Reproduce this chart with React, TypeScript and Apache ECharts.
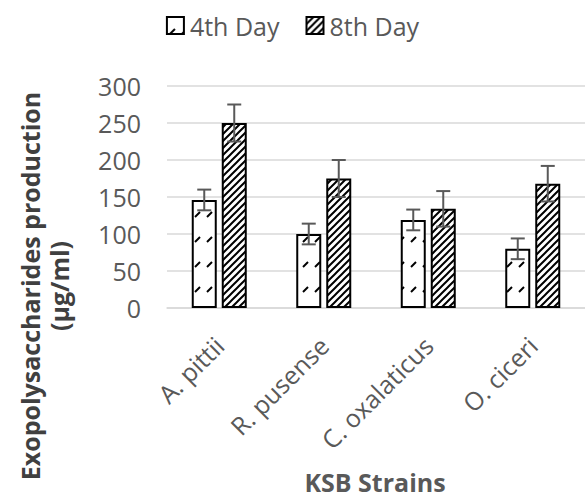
import React, { useEffect, useRef } from "react";
import * as echarts from "echarts";

const categories = ["A. pittii", "R. pusense", "C. oxalaticus", "O. ciceri"];
const seriesNames = ["4th Day", "8th Day"];
const day4Values = [146, 100, 119, 80];
const day8Values = [250, 175, 134, 168];
const day4Errors = [14, 14, 14, 14];
const day8Errors = [25, 25, 24, 24];
const yTicks = [0, 50, 100, 150, 200, 250, 300];

const FONT = "'Open Sans', 'Noto Sans', sans-serif";

function makeTile(kind: "sparse" | "dense"): HTMLCanvasElement {
  const c = document.createElement("canvas");
  const ctx = c.getContext("2d")!;
  if (kind === "dense") {
    const s = 7;
    c.width = s;
    c.height = s;
    ctx.fillStyle = "#ffffff";
    ctx.fillRect(0, 0, s, s);
    ctx.strokeStyle = "#000000";
    ctx.lineWidth = 2;
    ctx.beginPath();
    ctx.moveTo(-1, s + 1);
    ctx.lineTo(s + 1, -1);
    ctx.moveTo(-2, 2);
    ctx.lineTo(2, -2);
    ctx.moveTo(s - 2, s + 2);
    ctx.lineTo(s + 2, s - 2);
    ctx.stroke();
  } else {
    c.width = 12;
    c.height = 25;
    ctx.fillStyle = "#ffffff";
    ctx.fillRect(0, 0, 12, 25);
    ctx.strokeStyle = "#000000";
    ctx.lineWidth = 2;
    ctx.beginPath();
    ctx.moveTo(3, 17);
    ctx.lineTo(8, 12);
    ctx.stroke();
  }
  return c;
}

export default function App() {
  const ref = useRef<HTMLDivElement>(null);

  useEffect(() => {
    document.body.style.margin = "0";
    if (!ref.current) return;
    const chart = echarts.init(ref.current, null, { renderer: "svg" });

    const sparse = { image: makeTile("sparse"), repeat: "repeat" } as any;
    const dense = { image: makeTile("dense"), repeat: "repeat" } as any;

    const barWidth = 25;
    const gapRatio = 0.2;
    const offset = (barWidth * (1 + gapRatio)) / 2;

    const errorSeries = (vals: number[], errs: number[], dir: number) => ({
      type: "custom",
      silent: true,
      z: 10,
      data: vals.map((v, i) => [i, v, errs[i]]),
      renderItem: (params: any, api: any) => {
        const idx = api.value(0);
        const v = api.value(1);
        const e = api.value(2);
        const cx = api.coord([idx, v])[0] + dir * offset;
        const yTop = api.coord([idx, v + e])[1];
        const yBot = api.coord([idx, v - e])[1];
        const style = { stroke: "#595959", lineWidth: 2 };
        const cap = 7;
        return {
          type: "group",
          children: [
            { type: "line", shape: { x1: cx, y1: yTop, x2: cx, y2: yBot }, style },
            { type: "line", shape: { x1: cx - cap, y1: yTop, x2: cx + cap, y2: yTop }, style },
            { type: "line", shape: { x1: cx - cap, y1: yBot, x2: cx + cap, y2: yBot }, style },
          ],
        };
      },
    });

    chart.setOption({
      animation: false,
      backgroundColor: "#ffffff",
      textStyle: { fontFamily: FONT },
      legend: {
        data: seriesNames,
        top: 8,
        left: "center",
        icon: "rect",
        itemWidth: 17,
        itemHeight: 17,
        itemGap: 26,
        textStyle: { color: "#595959", fontSize: 25, fontFamily: FONT, padding: [0, 0, 0, 1] },
      },
      grid: { left: 167, top: 86, width: 422, height: 222, containLabel: false },
      xAxis: {
        type: "category",
        data: categories,
        axisLine: { lineStyle: { color: "#d9d9d9", width: 1.5 } },
        axisTick: { show: false },
        axisLabel: {
          rotate: 45,
          color: "#595959",
          fontSize: 25,
          fontFamily: FONT,
          margin: 33,
        },
      },
      yAxis: {
        type: "value",
        min: yTicks[0],
        max: yTicks[yTicks.length - 1],
        interval: 50,
        axisLine: { show: false },
        axisTick: { show: false },
        splitLine: { lineStyle: { color: "#d9d9d9", width: 1.5 } },
        axisLabel: { color: "#595959", fontSize: 25, fontFamily: FONT, margin: 26 },
      },
      graphic: [
        {
          type: "text",
          x: 44,
          y: 286,
          rotation: Math.PI / 2,
          style: {
            text: "Exopolysaccharides production\n(µg/ml)",
            fill: "#404040",
            font: `bold 25px ${FONT}`,
            textAlign: "center",
            textVerticalAlign: "middle",
            lineHeight: 29,
          },
        },
        {
          type: "text",
          x: 375,
          y: 482,
          style: {
            text: "KSB Strains",
            fill: "#595959",
            font: `bold 25px ${FONT}`,
            textAlign: "center",
            textVerticalAlign: "middle",
          },
        },
      ],
      series: [
        {
          name: seriesNames[0],
          type: "bar",
          data: day4Values,
          barWidth,
          barGap: "20%",
          itemStyle: { color: sparse, borderColor: "#000000", borderWidth: 2 },
        },
        {
          name: seriesNames[1],
          type: "bar",
          data: day8Values,
          barWidth,
          barGap: "20%",
          itemStyle: { color: dense, borderColor: "#000000", borderWidth: 2 },
        },
        errorSeries(day4Values, day4Errors, -1),
        errorSeries(day8Values, day8Errors, 1),
      ],
    });

    return () => chart.dispose();
  }, []);

  return <div ref={ref} style={{ width: 585, height: 498 }} />;
}
